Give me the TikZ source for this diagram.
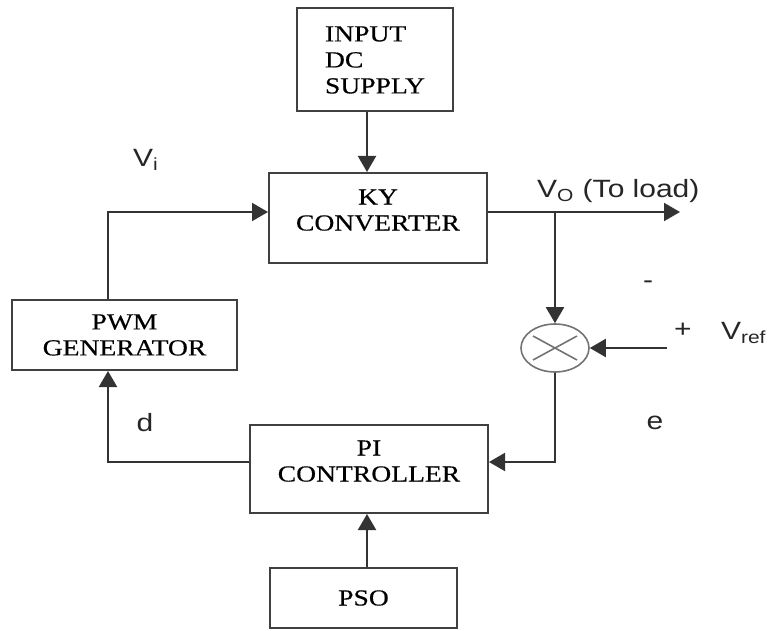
\documentclass[tikz,border=0pt]{standalone}
\usepackage{fontspec}
\usetikzlibrary{arrows.meta,shapes.geometric}
\newfontfamily\boxfont[FakeStretch=1.2,FakeBold=0.4]{Liberation Serif}
\newfontfamily\lblfont[FakeStretch=1.2]{Liberation Sans}
\begin{document}
\begin{tikzpicture}[
    x=0.5pt, y=-0.5pt,
    >={Triangle[length=8pt,width=9pt]},
    block/.style={draw=black!75, line width=1pt, rectangle, align=center, inner sep=0pt,
        font=\boxfont\fontsize{11.5}{13}\selectfont},
    sumjn/.style={draw=black!55, line width=0.8pt, ellipse, minimum width=34pt,
        minimum height=24pt, inner sep=0pt},
    lbl/.style={font=\lblfont\fontsize{12.5}{14}\selectfont, text=black!85},
    wire/.style={->, line width=1pt, draw=black!80}
]
\useasboundingbox (0,0) rectangle (772,631);

\node[block, minimum width=78pt, minimum height=51.5pt, align=left] (supply) at (375,60) {INPUT\\DC\\SUPPLY};
\node[block, minimum width=109pt, minimum height=45pt] (ky) at (378,218) {KY\\CONVERTER\\[-5pt]\mbox{}};
\node[block, minimum width=112.5pt, minimum height=35pt] (pwm) at (124.5,335) {PWM\\GENERATOR};
\node[block, minimum width=119pt, minimum height=44pt] (pi) at (369,469) {PI\\CONTROLLER\\[-5pt]\mbox{}};
\node[block, minimum width=93.5pt, minimum height=30pt] (pso) at (363.5,598) {PSO};
\node[sumjn] (sum) at (555,348) {};
\draw[black!55, line width=0.8pt] (sum.center) ++(-22,-12) -- ++(44,24);
\draw[black!55, line width=0.8pt] (sum.center) ++(-22,12) -- ++(44,-24);

% signal labels
\node[lbl] (vi) at (146,160) {V\textsubscript{i}};
\node[lbl, anchor=west] (vo) at (530,191) {V\textsubscript{O} (To load)};
\node[lbl] (minus) at (648,285) {-};
\node[lbl] (plus) at (683,330) {+};
\node[lbl, anchor=west] (vref) at (714,333) {V\textsubscript{ref}};
\node[lbl] (dlbl) at (145,423) {d};
\node[lbl] (elbl) at (655,423) {e};

\coordinate (spine) at (367,0);
\coordinate (vline) at (108,212);
\coordinate (load) at (680,212);
\coordinate (ref) at (667,348);
\coordinate (err) at (556,462);

\draw[wire] (supply.south -| spine) -- (ky.north -| spine);
\draw[wire] (pwm.north -| vline) -- (vline) -- (ky.west |- vline);
\draw[wire] (ky.east |- load) -- (load);
\draw[wire] (sum.north |- load) -- (sum.north);
\draw[wire] (ref) -- (sum.east);
\draw[wire] (sum.south) |- (pi.east |- err);
\draw[wire] (pi.west |- err) -| (pwm.south -| vline);
\draw[wire] (pso.north -| spine) -- (pi.south -| spine);

\end{tikzpicture}
\end{document}
